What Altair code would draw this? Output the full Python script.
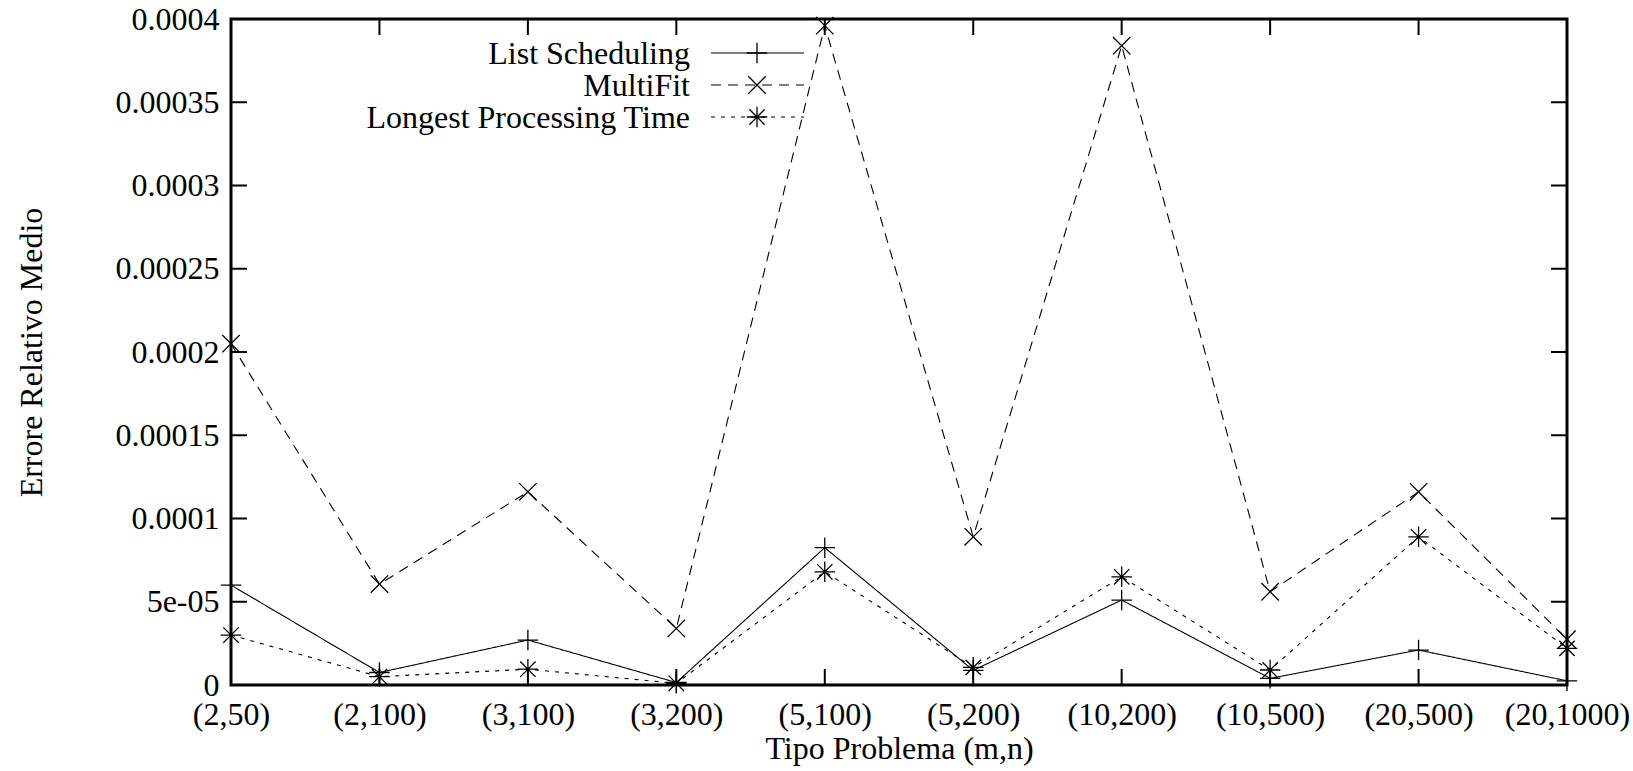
import altair as alt
import pandas as pd

categories = ["(2,50)", "(2,100)", "(3,100)", "(3,200)", "(5,100)",
              "(5,200)", "(10,200)", "(10,500)", "(20,500)", "(20,1000)"]
list_scheduling = [6.0e-5, 7.5e-6, 2.7e-5, 1.5e-6, 8.25e-5, 8.8e-6, 5.1e-5, 4.0e-6, 2.1e-5, 2.5e-6]
multifit = [2.05e-4, 6.06e-5, 1.16e-4, 3.4e-5, 3.96e-4, 8.9e-5, 3.84e-4, 5.6e-5, 1.16e-4, 2.75e-5]
lpt = [3.0e-5, 5.0e-6, 9.5e-6, 1.0e-6, 6.8e-5, 1.06e-5, 6.5e-5, 9.0e-6, 8.9e-5, 2.2e-5]
series_names = ["List Scheduling", "MultiFit", "Longest Processing Time"]
y_ticks = [0, 0.00005, 0.0001, 0.00015, 0.0002, 0.00025, 0.0003, 0.00035, 0.0004]
y_tick_labels = ["0", "5e-05", "0.0001", "0.00015", "0.0002", "0.00025", "0.0003", "0.00035", "0.0004"]

W, H = 1336, 666
FONT = "Liberation Serif"
FS = 32
TICK = 16
MSIZE = 420

shapes = {
    "List Scheduling": "M-1,0L1,0M0,-1L0,1",
    "MultiFit": "M-0.85,-0.85L0.85,0.85M-0.85,0.85L0.85,-0.85",
    "Longest Processing Time": "M-1,0L1,0M0,-1L0,1M-0.75,-0.75L0.75,0.75M-0.75,0.75L0.75,-0.75",
}
dashes = {
    "List Scheduling": [1, 0],
    "MultiFit": [10, 7],
    "Longest Processing Time": [4, 6],
}

x_scale = alt.Scale(type="point", padding=0, domain=categories)
y_scale = alt.Scale(domain=[0, 0.0004], nice=False, zero=True)

label_expr = "[" + ",".join("'" + s + "'" for s in y_tick_labels) + "][round(datum.value / 0.00005)]"

layers = []
for name, vals in zip(series_names, [list_scheduling, multifit, lpt]):
    df = pd.DataFrame({"cat": categories, "val": vals})
    base = alt.Chart(df).encode(
        x=alt.X("cat:N", scale=x_scale, sort=categories),
        y=alt.Y("val:Q", scale=y_scale),
    )
    line = base.mark_line(color="black", strokeWidth=1.1, strokeDash=dashes[name])
    pts = base.mark_point(shape=shapes[name], size=MSIZE, color="black",
                          filled=False, strokeWidth=1.3, opacity=1)
    layers += [line, pts]

axis_df = pd.DataFrame({"cat": categories, "val": [0] * len(categories)})
axis_layer = alt.Chart(axis_df).mark_point(opacity=0).encode(
    x=alt.X("cat:N", scale=x_scale, sort=categories,
            axis=alt.Axis(title="Tipo Problema (m,n)", labelAngle=0, ticks=False, tickSize=0,
                          domain=False, grid=False, labelPadding=14,
                          titleY=63, titleBaseline="middle",
                          labelFont=FONT, labelFontSize=FS, titleFont=FONT, titleFontSize=FS,
                          titleFontWeight="normal", labelColor="black", titleColor="black")),
    y=alt.Y("val:Q", scale=y_scale,
            axis=alt.Axis(title="Errore Relativo Medio", values=y_ticks, labelExpr=label_expr,
                          ticks=False, tickSize=0, domain=False, grid=False, labelPadding=12,
                          titleX=-200, titleY=H / 2, titleBaseline="middle", titleAlign="center",
                          labelFont=FONT, labelFontSize=FS, titleFont=FONT,
                          titleFontSize=FS, titleFontWeight="normal", labelColor="black",
                          titleColor="black")),
)

ytick_df = pd.DataFrame({"v": y_ticks})
ytl = alt.Chart(ytick_df).mark_rule(color="black", strokeWidth=2).encode(
    y=alt.Y("v:Q", scale=y_scale), x=alt.value(0), x2=alt.value(TICK))
ytr = alt.Chart(ytick_df).mark_rule(color="black", strokeWidth=2).encode(
    y=alt.Y("v:Q", scale=y_scale), x=alt.value(W - TICK), x2=alt.value(W))
xtick_df = pd.DataFrame({"c": categories})
xtb = alt.Chart(xtick_df).mark_rule(color="black", strokeWidth=2).encode(
    x=alt.X("c:N", scale=x_scale, sort=categories), y=alt.value(H), y2=alt.value(H - TICK))
xtt = alt.Chart(xtick_df).mark_rule(color="black", strokeWidth=2).encode(
    x=alt.X("c:N", scale=x_scale, sort=categories), y=alt.value(0), y2=alt.value(TICK))

leg_layers = []
leg_text_x = 459
leg_line_x1, leg_line_x2, leg_mark_x = 480, 573, 526
leg_rows = [34, 66, 98]
for name, ry in zip(series_names, leg_rows):
    one = pd.DataFrame({"name": [name]})
    t = alt.Chart(one).mark_text(align="right", baseline="middle", font=FONT, fontSize=FS,
                                 color="black", dy=1).encode(
        text="name:N", x=alt.value(leg_text_x), y=alt.value(ry))
    r = alt.Chart(one).mark_rule(color="black", strokeWidth=1.1, strokeDash=dashes[name]).encode(
        x=alt.value(leg_line_x1), x2=alt.value(leg_line_x2), y=alt.value(ry))
    p = alt.Chart(one).mark_point(shape=shapes[name], size=MSIZE, color="black", filled=False,
                                  strokeWidth=1.3, opacity=1).encode(
        x=alt.value(leg_mark_x), y=alt.value(ry))
    leg_layers += [t, r, p]

chart = alt.layer(axis_layer, ytl, ytr, xtb, xtt, *layers, *leg_layers).properties(
    width=W, height=H,
    autosize=alt.AutoSizeParams(type="none"),
    padding={"left": 231, "top": 19, "right": 66, "bottom": 86},
    background="white",
).configure_view(stroke="black", strokeWidth=3)

chart.save("out.html", embed_options={"renderer": "svg", "actions": False})
